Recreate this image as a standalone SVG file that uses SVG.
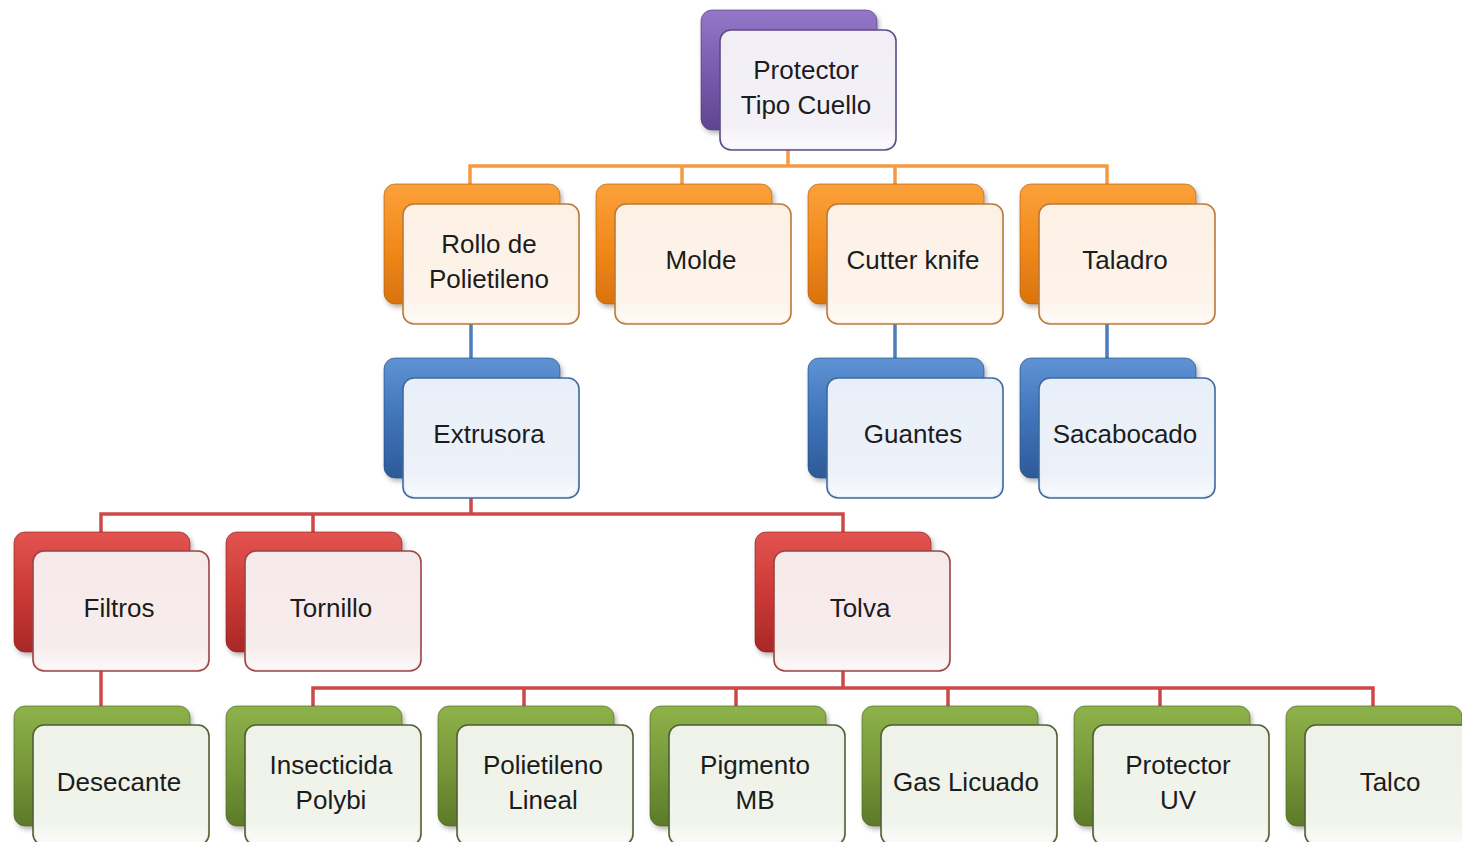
<svg xmlns="http://www.w3.org/2000/svg" width="1462" height="842" viewBox="0 0 1462 842">
<defs>
<linearGradient id="gPurple" x1="0" y1="0" x2="0" y2="1"><stop offset="0" stop-color="#9478C8"/><stop offset="0.5" stop-color="#7A5BAE"/><stop offset="1" stop-color="#5F4690"/></linearGradient>
<linearGradient id="gOrange" x1="0" y1="0" x2="0" y2="1"><stop offset="0" stop-color="#FBA13A"/><stop offset="0.5" stop-color="#F28A1C"/><stop offset="1" stop-color="#D9730E"/></linearGradient>
<linearGradient id="gBlue" x1="0" y1="0" x2="0" y2="1"><stop offset="0" stop-color="#5F93D4"/><stop offset="0.5" stop-color="#3F74BA"/><stop offset="1" stop-color="#2D5A98"/></linearGradient>
<linearGradient id="gRed" x1="0" y1="0" x2="0" y2="1"><stop offset="0" stop-color="#E25450"/><stop offset="0.5" stop-color="#CC3A37"/><stop offset="1" stop-color="#A92826"/></linearGradient>
<linearGradient id="gGreen" x1="0" y1="0" x2="0" y2="1"><stop offset="0" stop-color="#8EB24A"/><stop offset="0.5" stop-color="#77983A"/><stop offset="1" stop-color="#5C7A28"/></linearGradient>
<linearGradient id="gShine" x1="0" y1="0" x2="0" y2="1"><stop offset="0" stop-color="#ffffff" stop-opacity="0"/><stop offset="0.8" stop-color="#ffffff" stop-opacity="0.15"/><stop offset="1" stop-color="#ffffff" stop-opacity="0.7"/></linearGradient>
<filter id="sh" x="-10%" y="-10%" width="125%" height="130%"><feDropShadow dx="2" dy="3" stdDeviation="2.5" flood-color="#000" flood-opacity="0.3"/></filter>
</defs>
<style>
.back{filter:url(#sh);stroke-width:1;stroke-opacity:0.6}
.front{stroke-width:1.6}
.shine{fill:url(#gShine);stroke:none}
.pu .back{fill:url(#gPurple);stroke:#4A3670} .pu .front{fill:#F1EEF6;stroke:#5E4A85}
.or .back{fill:url(#gOrange);stroke:#A85A10} .or .front{fill:#FDF1E6;stroke:#B97A3A}
.bl .back{fill:url(#gBlue);stroke:#23487A} .bl .front{fill:#E9EFF8;stroke:#3F6A9E}
.rd .back{fill:url(#gRed);stroke:#7E1E1C} .rd .front{fill:#F6E9E9;stroke:#9A4444}
.gr .back{fill:url(#gGreen);stroke:#465E1E} .gr .front{fill:#EEF2E8;stroke:#4E5F34}
text{font-family:"Liberation Sans",Arial,sans-serif;font-size:26px;fill:#1C1C1C;text-anchor:middle}
.c{fill:none;stroke-width:3.5}
.co{stroke:#F59A42}.cb{stroke:#4A7EBF}.cr{stroke:#CD4848}
</style>
<g id="connectors">
<path class="c co" d="M788 150V166M470 184V166H1107V184M682 166V184M895 166V184"/>
<path class="c cb" d="M471 323V358M895 323V358M1107 323V358"/>
<path class="c cr" d="M471 497V514M101 532V514H843V532M313 514V532"/>
<path class="c cr" d="M101 670V706"/>
<path class="c cr" d="M843 670V688M313 706V688H1373V706M524 688V706M736 688V706M948 688V706M1160 688V706"/>
</g>
<g id="n-protector" class="pu"><rect class="back" x="701" y="10" width="176" height="120" rx="11"/><rect class="front" x="720" y="30" width="176" height="120" rx="11"/><rect class="shine" x="722" y="32" width="172" height="116" rx="10"/><text x="806" y="79">Protector</text><text x="806" y="114">Tipo Cuello</text></g>
<g id="n-rollo" class="or"><rect class="back" x="384" y="184" width="176" height="120" rx="11"/><rect class="front" x="403" y="204" width="176" height="120" rx="11"/><rect class="shine" x="405" y="206" width="172" height="116" rx="10"/><text x="489" y="253">Rollo de</text><text x="489" y="288">Polietileno</text></g>
<g id="n-molde" class="or"><rect class="back" x="596" y="184" width="176" height="120" rx="11"/><rect class="front" x="615" y="204" width="176" height="120" rx="11"/><rect class="shine" x="617" y="206" width="172" height="116" rx="10"/><text x="701" y="269">Molde</text></g>
<g id="n-cutter" class="or"><rect class="back" x="808" y="184" width="176" height="120" rx="11"/><rect class="front" x="827" y="204" width="176" height="120" rx="11"/><rect class="shine" x="829" y="206" width="172" height="116" rx="10"/><text x="913" y="269">Cutter knife</text></g>
<g id="n-taladro" class="or"><rect class="back" x="1020" y="184" width="176" height="120" rx="11"/><rect class="front" x="1039" y="204" width="176" height="120" rx="11"/><rect class="shine" x="1041" y="206" width="172" height="116" rx="10"/><text x="1125" y="269">Taladro</text></g>
<g id="n-extrusora" class="bl"><rect class="back" x="384" y="358" width="176" height="120" rx="11"/><rect class="front" x="403" y="378" width="176" height="120" rx="11"/><rect class="shine" x="405" y="380" width="172" height="116" rx="10"/><text x="489" y="443">Extrusora</text></g>
<g id="n-guantes" class="bl"><rect class="back" x="808" y="358" width="176" height="120" rx="11"/><rect class="front" x="827" y="378" width="176" height="120" rx="11"/><rect class="shine" x="829" y="380" width="172" height="116" rx="10"/><text x="913" y="443">Guantes</text></g>
<g id="n-sacabocado" class="bl"><rect class="back" x="1020" y="358" width="176" height="120" rx="11"/><rect class="front" x="1039" y="378" width="176" height="120" rx="11"/><rect class="shine" x="1041" y="380" width="172" height="116" rx="10"/><text x="1125" y="443">Sacabocado</text></g>
<g id="n-filtros" class="rd"><rect class="back" x="14" y="532" width="176" height="120" rx="11"/><rect class="front" x="33" y="551" width="176" height="120" rx="11"/><rect class="shine" x="35" y="553" width="172" height="116" rx="10"/><text x="119" y="617">Filtros</text></g>
<g id="n-tornillo" class="rd"><rect class="back" x="226" y="532" width="176" height="120" rx="11"/><rect class="front" x="245" y="551" width="176" height="120" rx="11"/><rect class="shine" x="247" y="553" width="172" height="116" rx="10"/><text x="331" y="617">Tornillo</text></g>
<g id="n-tolva" class="rd"><rect class="back" x="755" y="532" width="176" height="120" rx="11"/><rect class="front" x="774" y="551" width="176" height="120" rx="11"/><rect class="shine" x="776" y="553" width="172" height="116" rx="10"/><text x="860" y="617">Tolva</text></g>
<g id="n-desecante" class="gr"><rect class="back" x="14" y="706" width="176" height="120" rx="11"/><rect class="front" x="33" y="725" width="176" height="120" rx="11"/><rect class="shine" x="35" y="727" width="172" height="116" rx="10"/><text x="119" y="791">Desecante</text></g>
<g id="n-insecticida" class="gr"><rect class="back" x="226" y="706" width="176" height="120" rx="11"/><rect class="front" x="245" y="725" width="176" height="120" rx="11"/><rect class="shine" x="247" y="727" width="172" height="116" rx="10"/><text x="331" y="774">Insecticida</text><text x="331" y="809">Polybi</text></g>
<g id="n-polietileno" class="gr"><rect class="back" x="438" y="706" width="176" height="120" rx="11"/><rect class="front" x="457" y="725" width="176" height="120" rx="11"/><rect class="shine" x="459" y="727" width="172" height="116" rx="10"/><text x="543" y="774">Polietileno</text><text x="543" y="809">Lineal</text></g>
<g id="n-pigmento" class="gr"><rect class="back" x="650" y="706" width="176" height="120" rx="11"/><rect class="front" x="669" y="725" width="176" height="120" rx="11"/><rect class="shine" x="671" y="727" width="172" height="116" rx="10"/><text x="755" y="774">Pigmento</text><text x="755" y="809">MB</text></g>
<g id="n-gas" class="gr"><rect class="back" x="862" y="706" width="176" height="120" rx="11"/><rect class="front" x="881" y="725" width="176" height="120" rx="11"/><rect class="shine" x="883" y="727" width="172" height="116" rx="10"/><text x="966" y="791">Gas Licuado</text></g>
<g id="n-protectoruv" class="gr"><rect class="back" x="1074" y="706" width="176" height="120" rx="11"/><rect class="front" x="1093" y="725" width="176" height="120" rx="11"/><rect class="shine" x="1095" y="727" width="172" height="116" rx="10"/><text x="1178" y="774">Protector</text><text x="1178" y="809">UV</text></g>
<g id="n-talco" class="gr"><rect class="back" x="1286" y="706" width="176" height="120" rx="11"/><rect class="front" x="1305" y="725" width="176" height="120" rx="11"/><rect class="shine" x="1307" y="727" width="172" height="116" rx="10"/><text x="1390" y="791">Talco</text></g>
</svg>
